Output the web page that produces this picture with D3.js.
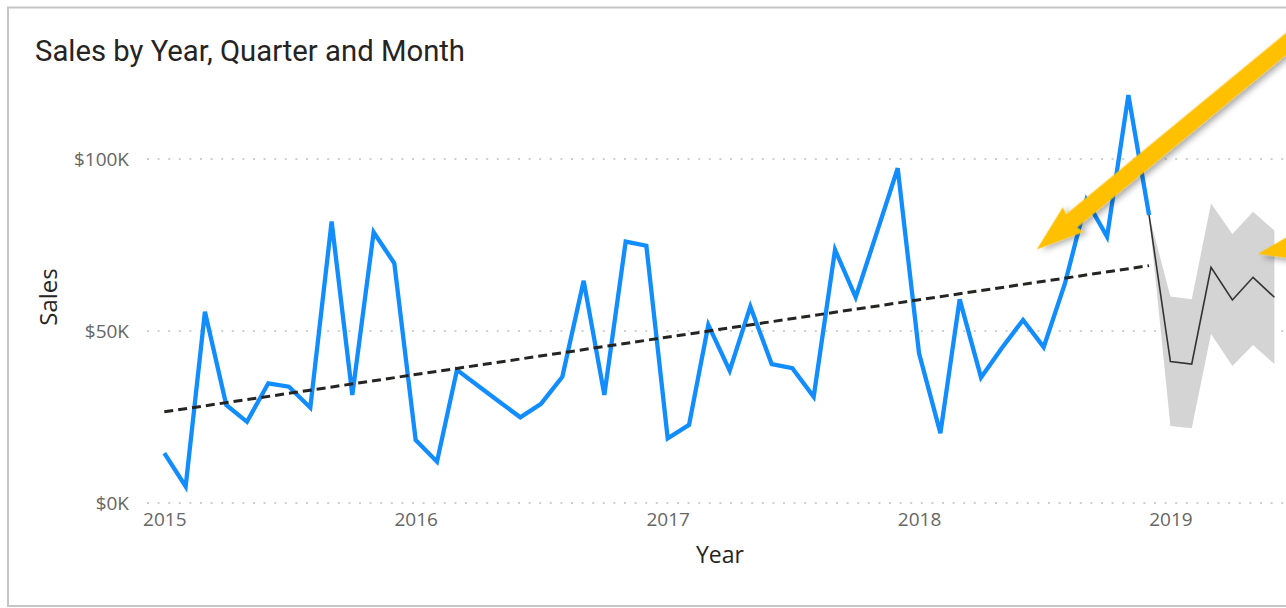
<!DOCTYPE html>
<html>
<head>
<meta charset="utf-8">
<script src="https://cdn.jsdelivr.net/npm/d3@7"></script>
<style>
  body { margin: 0; background: #fff; }
  svg { display: block; }
</style>
</head>
<body>
<div id="chart"></div>
<script>
// monthly sales, Jan 2015 .. Dec 2018 (thousands)
const sales2015 = [14.5, 4.8, 55.6, 28.5, 23.6, 34.8, 33.8, 27.7, 81.8, 31.4, 78.7, 69.7];
const sales2016 = [18.3, 12.0, 38.7, 34.0, 29.5, 24.9, 28.8, 36.7, 64.6, 31.4, 76.0, 74.8];
const sales2017 = [18.8, 22.7, 51.8, 38.5, 57.1, 40.4, 39.2, 30.9, 73.6, 59.8, 78.8, 97.3];
const sales2018 = [43.5, 20.3, 59.2, 36.5, 45.0, 53.2, 45.3, 63.9, 88.1, 77.4, 118.6, 83.7];

// forecast Jan 2019 .. Jun 2019 (thousands)
const forecast = [41.1, 40.4, 68.5, 59.0, 65.6, 59.8];
const forecastUpper = [60.0, 59.2, 87.1, 78.2, 84.7, 79.2];
const forecastLower = [22.4, 21.7, 49.1, 39.8, 45.9, 40.4];

// trend line end values (thousands)
const trendValues = [26.5, 69.0];

const yearLabels = ["2015", "2016", "2017", "2018", "2019"];
const yTicks = [0, 50000, 100000];

const width = 1286;
const height = 608;

const svg = d3.select("#chart").append("svg")
  .attr("width", width)
  .attr("height", height);

const defs = svg.append("defs");
defs.append("filter")
  .attr("id", "shadow")
  .attr("x", "-20%").attr("y", "-20%")
  .attr("width", "140%").attr("height", "140%")
  .append("feDropShadow")
  .attr("dx", 3).attr("dy", 4)
  .attr("stdDeviation", 3)
  .attr("flood-color", "#000")
  .attr("flood-opacity", 0.35);

// card border
svg.append("rect")
  .attr("x", 8).attr("y", 7.5)
  .attr("width", 1300).attr("height", 598.5)
  .attr("fill", "none")
  .attr("stroke", "#c6c6c6")
  .attr("stroke-width", 2);

svg.append("text")
  .attr("x", 35).attr("y", 61)
  .attr("textLength", 430)
  .attr("lengthAdjust", "spacingAndGlyphs")
  .style("font-family", "Roboto, 'Open Sans', sans-serif")
  .style("font-size", "30px")
  .attr("fill", "#252423")
  .text("Sales by Year, Quarter and Month");

const actual = [].concat(sales2015, sales2016, sales2017, sales2018);
const actualMonths = d3.timeMonth.range(new Date(2015, 0, 1), new Date(2019, 0, 1));
const forecastMonths = d3.timeMonth.range(new Date(2019, 0, 1), new Date(2019, 6, 1));

const actualData = actualMonths.map((d, i) => ({ date: d, value: actual[i] * 1000 }));
const lastActual = actualData[actualData.length - 1];
const forecastData = [{ date: lastActual.date, value: lastActual.value, lo: lastActual.value, hi: lastActual.value }]
  .concat(forecastMonths.map((d, i) => ({
    date: d,
    value: forecast[i] * 1000,
    lo: forecastLower[i] * 1000,
    hi: forecastUpper[i] * 1000
  })));

const x = d3.scaleTime()
  .domain([new Date(2015, 0, 1), new Date(2019, 0, 1)])
  .range([164.3, 1170.4]);

const y = d3.scaleLinear()
  .domain([0, 100000])
  .range([503, 159]);

// gridlines
svg.append("g")
  .selectAll("line")
  .data(yTicks)
  .enter().append("line")
  .attr("x1", 147).attr("x2", 1290)
  .attr("y1", d => y(d)).attr("y2", d => y(d))
  .attr("stroke", "#cfcfcf")
  .attr("stroke-width", 2)
  .attr("stroke-dasharray", "2 8.6");

// y axis
const yAxis = svg.append("g")
  .attr("transform", "translate(129,0)")
  .call(d3.axisLeft(y).tickValues(yTicks).tickSize(0).tickPadding(0)
    .tickFormat(d => "$" + d3.format("d")(d / 1000) + "K"));
yAxis.select(".domain").remove();
yAxis.selectAll("text")
  .style("font-family", "'Segoe UI', 'Open Sans', sans-serif")
  .style("font-size", "19px")
  .attr("fill", "#666666");

// x axis
const xAxis = svg.append("g")
  .attr("transform", "translate(0,512)")
  .call(d3.axisBottom(x)
    .tickValues(yearLabels.map(s => new Date(+s, 0, 1)))
    .tickSize(0).tickPadding(0)
    .tickFormat(d3.timeFormat("%Y")));
xAxis.select(".domain").remove();
xAxis.selectAll("text")
  .attr("dy", "0.71em")
  .style("font-family", "'Segoe UI', 'Open Sans', sans-serif")
  .style("font-size", "19px")
  .attr("fill", "#666666");

svg.append("text")
  .attr("x", 720).attr("y", 563)
  .attr("text-anchor", "middle")
  .style("font-family", "'Segoe UI', 'Open Sans', sans-serif")
  .style("font-size", "23px")
  .attr("fill", "#252423")
  .text("Year");

svg.append("text")
  .attr("transform", "translate(57,297) rotate(-90)")
  .attr("text-anchor", "middle")
  .style("font-family", "'Segoe UI', 'Open Sans', sans-serif")
  .style("font-size", "24px")
  .attr("fill", "#252423")
  .text("Sales");

// forecast band
svg.append("path")
  .datum(forecastData)
  .attr("fill", "#d4d4d4")
  .attr("d", d3.area()
    .x(d => x(d.date))
    .y0(d => y(d.lo))
    .y1(d => y(d.hi)));

// actual sales
svg.append("path")
  .datum(actualData)
  .attr("fill", "none")
  .attr("stroke", "#118DFF")
  .attr("stroke-width", 4.3)
  .attr("d", d3.line().x(d => x(d.date)).y(d => y(d.value)));

// forecast line
svg.append("path")
  .datum(forecastData)
  .attr("fill", "none")
  .attr("stroke", "#333333")
  .attr("stroke-width", 1.6)
  .attr("d", d3.line().x(d => x(d.date)).y(d => y(d.value)));

// trend line
const trendData = [
  { date: actualMonths[0], value: trendValues[0] * 1000 },
  { date: lastActual.date, value: trendValues[1] * 1000 }
];
svg.append("path")
  .datum(trendData)
  .attr("fill", "none")
  .attr("stroke", "#252423")
  .attr("stroke-width", 3)
  .attr("stroke-dasharray", "9 5")
  .attr("d", d3.line().x(d => x(d.date)).y(d => y(d.value)));

// callout arrows (tip position in chart coordinates, angle toward tail)
const arrows = [
  { date: new Date(2018, 5, 21), value: 73700, angle: -39.5 },
  { date: new Date(2019, 4, 8), value: 72400, angle: -11.3 }
];
const arrowShape = [[0, 0], [47, -16], [45, -8.5], [500, -8.5], [500, 8.5], [45, 8.5], [47, 16]];

svg.append("g")
  .selectAll("polygon")
  .data(arrows)
  .enter().append("polygon")
  .attr("points", arrowShape.map(p => p.join(",")).join(" "))
  .attr("transform", d => `translate(${x(d.date)},${y(d.value)}) rotate(${d.angle})`)
  .attr("fill", "#FFC000")
  .attr("filter", "url(#shadow)");
</script>
</body>
</html>
